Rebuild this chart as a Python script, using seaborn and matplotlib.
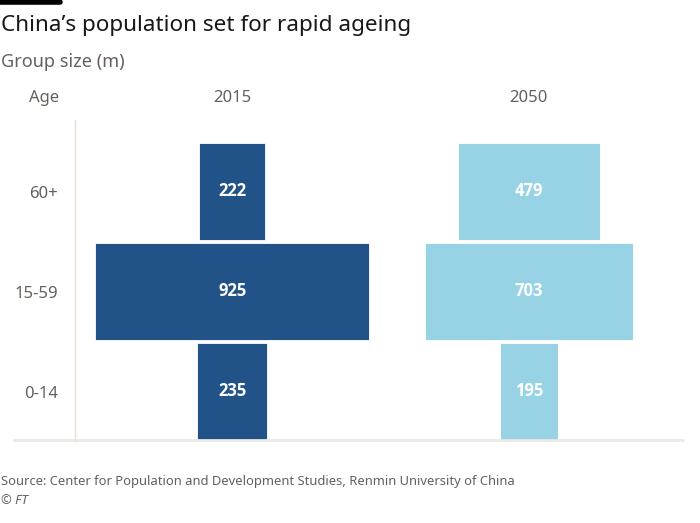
import numpy as np
import pandas as pd
import matplotlib.pyplot as plt
import seaborn as sns

AGE_GROUPS = ["60+", "15-59", "0-14"]
YEARS      = ["2015", "2050"]
POP_2015   = [222, 925, 235]
POP_2050   = [479, 703, 195]

DARK  = "#215389"
LIGHT = "#97d3e5"
GREY  = "#66605c"

sns.set_theme(style="white")
plt.rcParams["font.family"] = ["Noto Sans", "DejaVu Sans"]

df = pd.DataFrame({
    "age":  AGE_GROUPS * 2,
    "year": [YEARS[0]] * 3 + [YEARS[1]] * 3,
    "pop":  POP_2015 + POP_2050,
})

fig = plt.figure(figsize=(7, 5.23), dpi=100)
ax = fig.add_axes([75 / 700, 83 / 523, 608 / 700, 320 / 523])

centres = {"2015": 530, "2050": 1530}
colours = {"2015": DARK, "2050": LIGHT}

for yr in YEARS:
    sub = df[df["year"] == yr]
    n_before = len(ax.patches)
    sns.barplot(data=sub, x="pop", y="age", order=AGE_GROUPS, orient="h",
                color=colours[yr], saturation=1, width=0.97,
                edgecolor="#ffffff", linewidth=0.6, ax=ax)
    # centre each bar on the year's column
    for p, v in zip(ax.patches[n_before:], sub["pop"].values):
        p.set_x(centres[yr] - v / 2)
        p.set_facecolor(colours[yr])
        ax.text(centres[yr], p.get_y() + p.get_height() / 2, f"{v}",
                ha="center", va="center", color="white",
                fontsize=12, fontweight="bold",
                family=["Open Sans", "DejaVu Sans"])

ax.set_xlim(0, 2050)
ax.set_ylim(2.485, -0.715)
ax.set_xlabel("")
ax.set_ylabel("")
ax.set_xticks([])
ax.tick_params(axis="y", length=0, pad=12, labelsize=12, labelcolor=GREY)

for s in ["top", "right"]:
    ax.spines[s].set_visible(False)
ax.spines["left"].set_color("#ecdcce")
ax.spines["left"].set_linewidth(1)
ax.spines["bottom"].set_visible(False)
ax.plot([-0.1, 1.0], [0, 0], transform=ax.transAxes, color="#ebe7e3",
        lw=2, clip_on=False)

# column headers
for yr in YEARS:
    ax.text(centres[yr], -0.93, yr, ha="center", va="center",
            fontsize=12, color=GREY)
fig.text(44 / 700, 1 - 98 / 523, "Age", ha="center", va="center",
         fontsize=12, color=GREY)

# titles
fig.add_artist(plt.Line2D([0, 60 / 700], [1 - 2 / 523, 1 - 2 / 523],
                          color="black", lw=4))
fig.text(1 / 700, 1 - 25 / 523, "China\u2019s population set for rapid ageing",
         ha="left", va="center", fontsize=16.2, color="#1a1817")
fig.text(1 / 700, 1 - 62 / 523, "Group size (m)",
         ha="left", va="center", fontsize=13, color=GREY)

fig.text(1 / 700, 1 - 482 / 523,
         "Source: Center for Population and Development Studies, Renmin University of China",
         ha="left", va="center", fontsize=9.35, color=GREY)
fig.text(1 / 700, 1 - 500 / 523, "\u00a9 FT", ha="left", va="center",
         fontsize=9.35, color=GREY, style="italic")

fig.savefig("out.png", dpi=100, facecolor="white")
